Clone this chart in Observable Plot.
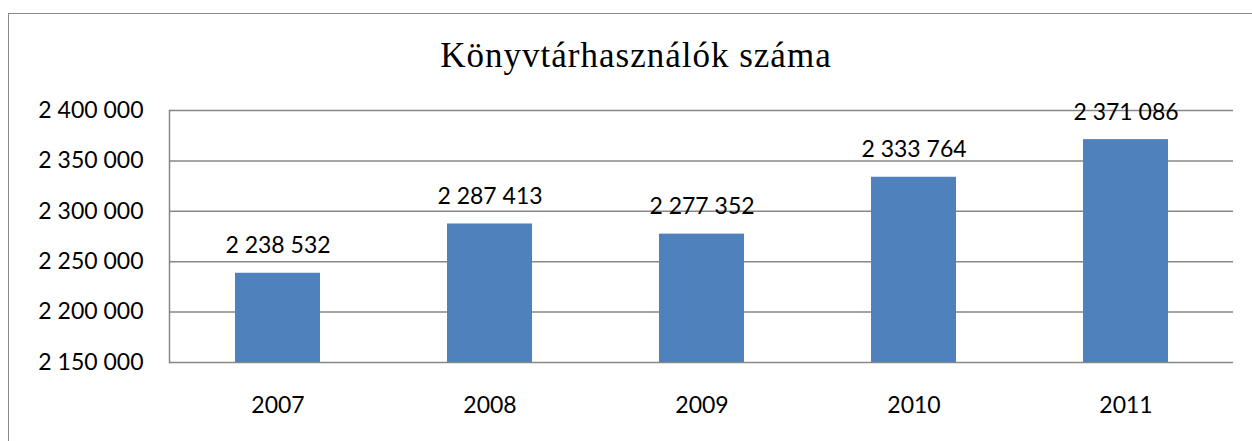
<!DOCTYPE html>
<html>
<head>
<meta charset="utf-8">
<script src="https://cdn.jsdelivr.net/npm/d3@7"></script>
<script src="https://cdn.jsdelivr.net/npm/@observablehq/plot@0.6"></script>
<style>
  html, body { margin: 0; padding: 0; background: #fff; }
  #wrap { position: relative; width: 1252px; height: 441px; overflow: hidden; }
  #frame { position: absolute; left: 8px; top: 13px; right: -10px; bottom: -10px;
           border-left: 1.5px solid #8a8a8a; border-top: 1.5px solid #8a8a8a; }
  #title { position: absolute; left: 0; top: 0; width: 1272px; height: 80px; text-align: center;
           font-family: "Liberation Serif", "Times New Roman", serif; font-size: 35px; letter-spacing: 1px;
           line-height: 1; color: #000; }
  #title span { position: absolute; left: 0; right: 0; top: 38px; }
  #chart { position: absolute; left: 0; top: 80px; }
</style>
</head>
<body>
<div id="wrap">
  <div id="frame"></div>
  <div id="title"><span>Könyvtárhasználók száma</span></div>
  <div id="chart"></div>
</div>
<script>
const years = ["2007", "2008", "2009", "2010", "2011"];
const users = [2238532, 2287413, 2277352, 2333764, 2371086];
const yTicks = [2150000, 2200000, 2250000, 2300000, 2350000, 2400000];
const yMin = 2150000;
const yMax = 2400000;

const data = years.map((y, i) => ({year: y, value: users[i]}));
const fmt = d3.formatLocale({decimal: ",", thousands: " ", grouping: [3], currency: ["", ""]}).format(",d");

const chart = Plot.plot({
  width: 1252,
  height: 361,
  marginLeft: 169,
  marginRight: 19,
  marginTop: 30,
  marginBottom: 79,
  style: {fontFamily: "Lato, 'Open Sans', sans-serif", fontSize: "23px", color: "#000", background: "transparent"},
  x: {domain: years, paddingInner: 0.6, paddingOuter: 0.3, label: null},
  y: {domain: [yMin, yMax], label: null},
  marks: [
    Plot.ruleY(yTicks, {stroke: "#878787", strokeWidth: 1.5, strokeOpacity: 1}),
    Plot.barY(data, {x: "year", y1: yMin, y2: "value", fill: "#4F81BD"}),
    Plot.frame({anchor: "left", stroke: "#878787", strokeWidth: 1.5, strokeOpacity: 1}),
    Plot.axisY(yTicks, {tickSize: 0, tickPadding: 26, tickFormat: fmt, fontSize: 23, fill: "#000", label: null}),
    Plot.axisX({tickSize: 0, tickPadding: 34, fontSize: 23, fill: "#000", label: null}),
    Plot.text(data, {x: "year", y: "value", text: d => fmt(d.value), dy: -20, lineAnchor: "bottom", fontSize: 23, fill: "#000"})
  ]
});
document.getElementById("chart").appendChild(chart);
</script>
</body>
</html>
